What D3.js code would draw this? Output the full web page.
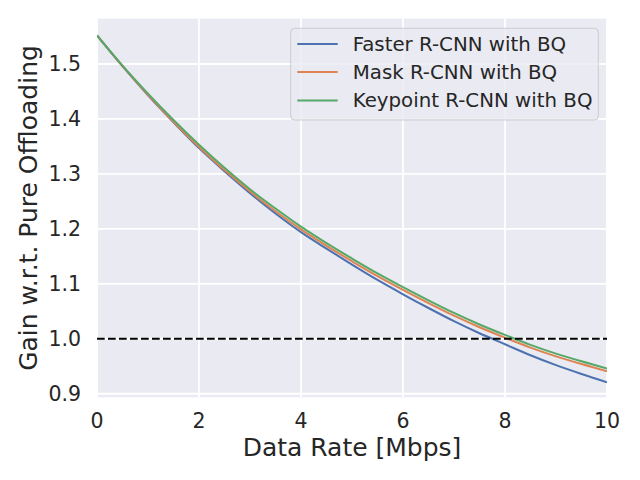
<!DOCTYPE html>
<html>
<head>
<meta charset="utf-8">
<script src="https://cdn.jsdelivr.net/npm/d3@7"></script>
<style>
  body { margin: 0; background: #fff; }
  svg text { font-family: "DejaVu Sans", sans-serif; fill: #262626; }
</style>
</head>
<body>
<div id="chart"></div>
<script>
// Gain vs data rate - three detectors with BQ
const rates = [0, 0.5, 1, 1.5, 2, 2.5, 3, 3.5, 4, 4.5, 5, 5.5, 6, 6.5, 7, 7.5, 8, 8.5, 9, 9.5, 10];
const fasterGain = [1.552, 1.496, 1.443, 1.394, 1.347, 1.305, 1.265, 1.228, 1.194, 1.164, 1.135, 1.107, 1.081, 1.056, 1.032, 1.010, 0.990, 0.970, 0.952, 0.936, 0.921];
const maskGain = [1.552, 1.496, 1.444, 1.395, 1.349, 1.307, 1.268, 1.232, 1.199, 1.169, 1.141, 1.114, 1.089, 1.065, 1.042, 1.021, 1.002, 0.984, 0.968, 0.954, 0.941];
const keypointGain = [1.552, 1.497, 1.446, 1.398, 1.353, 1.311, 1.272, 1.237, 1.204, 1.174, 1.146, 1.119, 1.094, 1.070, 1.047, 1.026, 1.007, 0.989, 0.973, 0.959, 0.946];
const seriesNames = ["Faster R-CNN with BQ", "Mask R-CNN with BQ", "Keypoint R-CNN with BQ"];
const xTicks = [0, 2, 4, 6, 8, 10];
const yTicks = [0.9, 1.0, 1.1, 1.2, 1.3, 1.4, 1.5];
const baseline = 1.0;

const colors = ["#4C72B0", "#DD8452", "#55A868"];
const W = 640, H = 480;
const plot = { left: 97, right: 607, top: 18.7, bottom: 397.3 };

const svg = d3.select("#chart").append("svg")
    .attr("width", W)
    .attr("height", H);

const x = d3.scaleLinear().domain([0, 10]).range([plot.left, plot.right]);
const y = d3.scaleLinear().domain([0.8935, 1.5824]).range([plot.bottom, plot.top]);

// background
svg.append("rect")
    .attr("x", plot.left)
    .attr("y", plot.top)
    .attr("width", plot.right - plot.left)
    .attr("height", plot.bottom - plot.top)
    .attr("fill", "#EAEAF2");

// grid
svg.append("g").selectAll("line")
    .data(xTicks)
    .enter().append("line")
    .attr("x1", d => x(d)).attr("x2", d => x(d))
    .attr("y1", plot.top).attr("y2", plot.bottom)
    .attr("stroke", "#fff").attr("stroke-width", 1.8);

svg.append("g").selectAll("line")
    .data(yTicks)
    .enter().append("line")
    .attr("x1", plot.left).attr("x2", plot.right)
    .attr("y1", d => y(d)).attr("y2", d => y(d))
    .attr("stroke", "#fff").attr("stroke-width", 1.8);

// tick labels
svg.append("g").selectAll("text")
    .data(xTicks)
    .enter().append("text")
    .attr("x", d => x(d))
    .attr("y", 428)
    .attr("text-anchor", "middle")
    .style("font-size", "20.5px")
    .text(d => d);

svg.append("g").selectAll("text")
    .data(yTicks)
    .enter().append("text")
    .attr("x", 81)
    .attr("y", d => y(d))
    .attr("text-anchor", "end")
    .attr("dominant-baseline", "central")
    .style("font-size", "20.5px")
    .text(d => d.toFixed(1));

// axis labels
svg.append("text")
    .attr("x", (plot.left + plot.right) / 2)
    .attr("y", 456)
    .attr("text-anchor", "middle")
    .style("font-size", "25px")
    .text("Data Rate [Mbps]");

svg.append("text")
    .attr("transform", `translate(37,${(plot.top + plot.bottom) / 2}) rotate(-90)`)
    .attr("text-anchor", "middle")
    .style("font-size", "25px")
    .text("Gain w.r.t. Pure Offloading");

// clip for lines
svg.append("clipPath").attr("id", "clip")
    .append("rect")
    .attr("x", plot.left).attr("y", plot.top)
    .attr("width", plot.right - plot.left)
    .attr("height", plot.bottom - plot.top);

const line = d3.line()
    .x((d, i) => x(rates[i]))
    .y(d => y(d))
    .curve(d3.curveMonotoneX);

const allSeries = [fasterGain, maskGain, keypointGain];
svg.append("g").attr("clip-path", "url(#clip)")
    .selectAll("path")
    .data(allSeries)
    .enter().append("path")
    .attr("d", line)
    .attr("fill", "none")
    .attr("stroke", (d, i) => colors[i])
    .attr("stroke-width", 2);

// break-even line
svg.append("line")
    .attr("x1", plot.left).attr("x2", plot.right)
    .attr("y1", y(baseline)).attr("y2", y(baseline))
    .attr("stroke", "#000")
    .attr("stroke-width", 2)
    .attr("stroke-dasharray", "7.7,3.3");

// legend
const legend = svg.append("g");
legend.append("rect")
    .attr("x", 290.7).attr("y", 28.3)
    .attr("width", 307.6).attr("height", 91.7)
    .attr("rx", 4)
    .attr("fill", "#EAEAF2").attr("fill-opacity", 0.8)
    .attr("stroke", "#cccccc").attr("stroke-width", 1);

const rowY = [44, 72, 100.5];
seriesNames.forEach((name, i) => {
    legend.append("line")
        .attr("x1", 297.3).attr("x2", 337.7)
        .attr("y1", rowY[i]).attr("y2", rowY[i])
        .attr("stroke", colors[i]).attr("stroke-width", 2);
    legend.append("text")
        .attr("x", 352.7)
        .attr("y", rowY[i])
        .attr("dominant-baseline", "central")
        .style("font-size", "19.8px")
        .text(name);
});
</script>
</body>
</html>
